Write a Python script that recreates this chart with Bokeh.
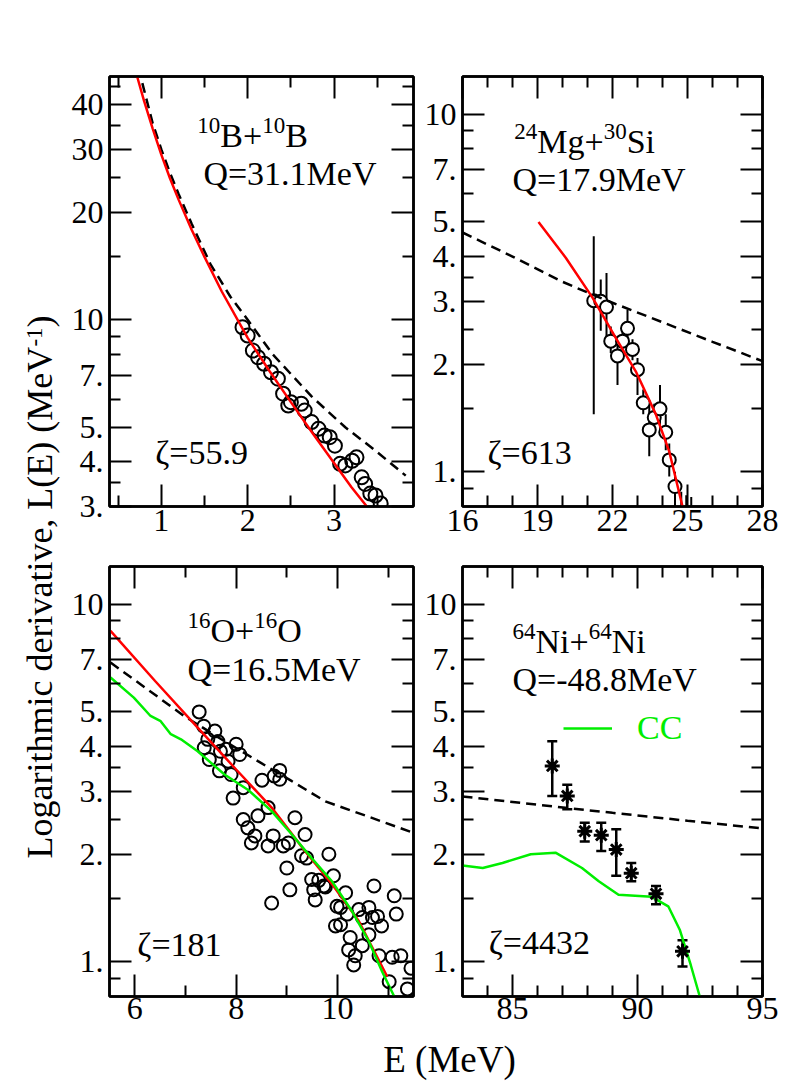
import math
from bokeh.plotting import figure
from bokeh.models import (LinearAxis, LogAxis, FixedTicker, CustomJSTickFormatter,
                          Range1d, Label, Legend, LegendItem, ColumnDataSource,
                          Whisker, TeeHead)
from bokeh.layouts import row, column
from bokeh.embed import file_html
from bokeh.resources import INLINE

FONT = "Liberation Serif"
RED = "#ff0000"
GREEN = "#00ee00"

# ---------------- Panel 1: 10B+10B ----------------
b_red_x = [0.72, 0.8, 0.9, 1.0, 1.1, 1.2, 1.35, 1.5, 1.7, 2.0, 2.25, 2.5, 2.75, 3.0, 3.2, 3.38]
b_red_y = [48, 41, 34.3, 29.0, 24.9, 21.7, 17.9, 15.0, 12.0, 8.9, 7.2, 5.88, 4.82, 3.97, 3.4, 3.0]
b_dash_x = [0.78, 0.9, 1.0, 1.1, 1.2, 1.35, 1.57, 1.8, 2.0, 2.29, 2.74, 3.13, 3.48, 3.83]
b_dash_y = [46, 35.5, 30, 25.8, 22.5, 18.6, 14.3, 11.6, 10.0, 8.0, 6.1, 5.0, 4.3, 3.66]
b_exp_x = [1.94, 2.0, 2.06, 2.12, 2.19, 2.27, 2.35, 2.41, 2.47, 2.5, 2.62, 2.66, 2.74,
           2.82, 2.89, 2.95, 3.01, 3.07, 3.13, 3.21, 3.26, 3.32, 3.36, 3.42, 3.48, 3.54]
b_exp_y = [9.53, 9.03, 8.2, 7.85, 7.53, 7.13, 6.84, 6.21, 5.75, 5.88, 5.82, 5.57, 5.17,
           4.95, 4.74, 4.69, 4.44, 3.95, 3.91, 4.03, 4.12, 3.62, 3.47, 3.26, 3.22, 3.06]

# ---------------- Panel 2: 24Mg+30Si ----------------
mg_red_x = [19.04, 20.13, 21.2, 22.13, 22.93, 23.73, 24.27, 24.8]
mg_red_y = [5.0, 3.97, 3.07, 2.37, 1.91, 1.45, 1.14, 0.8]
mg_dash_x = [16.0, 18.0, 20.0, 21.2, 22.0, 24.0, 26.0, 28.0]
mg_dash_y = [4.67, 4.0, 3.4, 3.13, 2.97, 2.62, 2.31, 2.04]
mg_exp_x = [21.25, 21.53, 21.76, 21.93, 22.2, 22.4, 22.6, 22.8, 23.0, 23.23, 23.47,
            23.67, 23.9, 24.13, 24.27, 24.5, 24.75, 24.95, 25.15]
mg_exp_y = [3.01, 3.0, 2.89, 2.32, 2.11, 2.32, 2.52, 2.2, 1.93, 1.56, 1.31,
            1.42, 1.5, 1.29, 1.08, 0.91, 0.72, 0.72, 0.70]
mg_exp_lo = [1.45, 2.48, 2.32, 2.15, 1.75, 2.15, 2.27, 2.05, 1.64, 1.45, 1.106,
             1.3, 1.3, 1.15, 0.97, 0.8, 0.6, 0.6, 0.6]
mg_exp_hi = [4.56, 3.45, 3.6, 2.55, 2.37, 2.5, 2.84, 2.35, 2.08, 1.7, 1.54,
             1.55, 1.75, 1.45, 1.2, 1.0, 0.88, 0.86, 0.85]

# ---------------- Panel 3: 16O+16O ----------------
o_red_x = [5.52, 6.4, 7.24, 8.0, 8.7, 9.36, 9.89, 10.42, 10.98]
o_red_y = [8.42, 6.1, 4.52, 3.45, 2.7, 2.04, 1.65, 1.3, 0.91]
o_dash_x = [5.52, 6.2, 6.97, 7.7, 8.43, 9.1, 9.76, 10.6, 11.48]
o_dash_y = [6.87, 5.85, 4.87, 4.2, 3.64, 3.2, 2.81, 2.55, 2.3]
o_cc_x = [5.52, 5.98, 6.31, 6.51, 6.71, 6.91, 7.24, 7.77, 8.23, 8.7, 9.1, 9.49,
          9.89, 10.28, 10.62, 10.88, 11.12]
o_cc_y = [6.24, 5.48, 4.87, 4.71, 4.33, 4.19, 3.88, 3.34, 3.03, 2.64, 2.27, 1.95,
          1.68, 1.39, 1.14, 0.94, 0.8]
o_exp_x = [7.27, 7.36, 7.58, 7.44, 7.64, 7.37, 7.47, 7.69, 7.80, 8.0, 8.07, 7.67,
           7.84, 7.90, 8.14, 7.94, 8.51, 8.75, 8.86, 8.86, 8.14, 8.23, 8.37, 8.30,
           8.43, 8.63, 8.73, 8.63, 8.93, 9.03, 9.16, 9.36, 9.29, 9.39, 9.0, 9.06,
           8.70, 9.49, 9.53, 9.56, 9.63, 9.73, 9.83, 9.92, 9.76, 9.99, 10.06, 10.16,
           9.96, 10.06, 10.25, 10.22, 10.35, 10.32, 10.42, 10.49, 10.62, 10.72, 10.69,
           10.79, 10.87, 10.62, 10.49, 10.82, 11.08, 11.12, 11.16, 11.25, 11.45, 11.38,
           11.02, 10.19]
o_exp_y = [5.00, 4.56, 4.42, 4.19, 4.13, 3.97, 3.68, 3.88, 3.93, 4.06, 3.80, 3.42,
           3.64, 3.34, 3.07, 2.87, 3.22, 3.31, 3.43, 3.24, 2.50, 2.37, 2.25, 2.15,
           2.56, 2.70, 2.25, 2.11, 2.11, 2.15, 2.53, 2.27, 1.98, 1.95, 1.83, 1.59,
           1.46, 1.70, 1.59, 1.49, 1.69, 1.63, 2.00, 1.74, 1.62, 1.43, 1.42, 1.56,
           1.26, 1.27, 1.17, 1.08, 1.04, 0.98, 1.40, 1.33, 1.42, 1.63, 1.33,
           1.34, 1.26, 1.19, 1.11, 1.04, 1.03, 1.53, 1.36, 1.04, 0.96, 0.84,
           0.88, 1.36]

# ---------------- Panel 4: 64Ni+64Ni ----------------
ni_dash_x = [83, 86, 89, 92, 95]
ni_dash_y = [2.90, 2.75, 2.61, 2.48, 2.36]
ni_cc_x = [83.0, 83.81, 84.6, 85.73, 86.72, 87.78, 88.45, 89.24, 90.57, 91.23, 91.69, 92.13, 92.49]
ni_cc_y = [1.86, 1.83, 1.89, 2.0, 2.02, 1.83, 1.68, 1.54, 1.52, 1.43, 1.23, 0.98, 0.80]
ni_exp_x = [86.59, 87.19, 87.89, 88.55, 89.15, 89.75, 90.74, 91.80]
ni_exp_y = [3.53, 2.91, 2.32, 2.26, 2.06, 1.77, 1.55, 1.07]
ni_exp_lo = [2.91, 2.67, 2.17, 2.04, 1.74, 1.68, 1.45, 0.97]
ni_exp_hi = [4.14, 3.13, 2.45, 2.45, 2.35, 1.89, 1.63, 1.15]

# ---------------- ticks ----------------
y1_major = [3, 4, 5, 7, 10, 20, 30, 40]
y1_minor = [3.5, 6, 8, 9, 15, 25, 35, 45]
y2_major = [1, 2, 3, 4, 5, 7, 10]
y2_minor = [0.9, 1.5, 2.5, 3.5, 6, 8, 9]
x1_major, x1_minor = [1, 2, 3], [0.5, 1.5, 2.5, 3.5]
x2_major, x2_minor = [16, 19, 22, 25, 28], [17, 18, 20, 21, 23, 24, 26, 27]
x3_major, x3_minor = [6, 8, 10], [7, 9, 11]
x4_major, x4_minor = [85, 90, 95], [84, 86, 87, 88, 89, 91, 92, 93, 94]

MAIN = 34      # annotation font size (px)
SUP = 23       # superscript font size (px)
EM = {"0": .5, "1": .5, "2": .5, "3": .5, "4": .5, "6": .5, "B": .667, "+": .564,
      "M": .889, "g": .5, "S": .556, "i": .278, "O": .722, "N": .722}


def style_axis(ax, labels, standoff):
    ax.major_tick_in = 22
    ax.major_tick_out = 0
    ax.minor_tick_in = 11
    ax.minor_tick_out = 0
    ax.major_tick_line_width = 2
    ax.minor_tick_line_width = 2
    ax.major_tick_line_color = "black"
    ax.minor_tick_line_color = "black"
    ax.axis_line_width = 2.5
    ax.axis_line_color = "black"
    ax.major_label_text_font = FONT
    ax.major_label_text_font_size = "32px"
    ax.major_label_text_color = "black"
    ax.major_label_standoff = standoff
    ax.axis_label = None
    if not labels:
        ax.major_label_text_color = None


def panel(xr, yr, xmaj, xmin, ymaj, ymin, w, h, bl, br, bt, bb, xstand):
    p = figure(width=w, height=h, x_range=Range1d(*xr), y_range=Range1d(*yr),
               y_axis_type="log", x_axis_location=None, y_axis_location=None,
               output_backend="svg", toolbar_location=None,
               min_border_left=bl, min_border_right=br,
               min_border_top=bt, min_border_bottom=bb)
    p.outline_line_color = "black"
    p.outline_line_width = 2.5
    for g in p.grid:
        g.visible = False
    xt = FixedTicker(ticks=xmaj, minor_ticks=xmin)
    yt = FixedTicker(ticks=ymaj, minor_ticks=ymin)
    yfmt = CustomJSTickFormatter(code="return tick >= 10 ? tick.toFixed(0) : tick.toFixed(0) + '.';")
    ax = LinearAxis(ticker=xt); style_axis(ax, True, xstand); p.add_layout(ax, "below")
    ax = LinearAxis(ticker=xt); style_axis(ax, False, 3); p.add_layout(ax, "above")
    ax = LogAxis(ticker=yt, formatter=yfmt); style_axis(ax, True, 6); p.add_layout(ax, "left")
    ax = LogAxis(ticker=yt, formatter=yfmt); style_axis(ax, False, 6); p.add_layout(ax, "right")
    return p


def note(p, x, y, text, size=MAIN, color="black", dx=0, dy=0):
    p.add_layout(Label(x=x, y=y, x_offset=dx, y_offset=dy, text=text, text_font=FONT,
                       text_font_size=f"{size}px", text_color=color,
                       text_align="left", text_baseline="alphabetic"))


def reaction(p, x, y, parts):
    # parts: list of (text, is_superscript)
    dx = 0.0
    for txt, sup in parts:
        size = SUP if sup else MAIN
        note(p, x, y, txt, size=size, dx=dx, dy=10 if sup else 0)
        dx += sum(EM.get(c, .5) for c in txt) * size


DASH = "10 6"
LW = 2.5

# Panel 1
p1 = panel((0.4, 3.92), (3, 48), x1_major, x1_minor, y1_major, y1_minor, 353, 548, 47, 2, 76, 42, 3)
p1.scatter(b_exp_x, b_exp_y, marker="circle", size=14, fill_color=None, line_color="black", line_width=2)
p1.line(b_dash_x, b_dash_y, line_color="black", line_width=LW, line_dash=DASH)
p1.line(b_red_x, b_red_y, line_color=RED, line_width=LW)
reaction(p1, 1.417, 32.8, [("10", True), ("B+", False), ("10", True), ("B", False)])
note(p1, 1.487, 25.6, "Q=31.1MeV")
note(p1, 0.93, 4.26, "ζ=55.9")

# Panel 2
p2 = panel((16, 28), (0.8, 12.75), x2_major, x2_minor, y2_major, y2_minor, 367, 548, 47, 20, 76, 42, 3)
p2.segment(mg_exp_x, mg_exp_lo, mg_exp_x, mg_exp_hi, line_color="black", line_width=2)
p2.scatter(mg_exp_x, mg_exp_y, marker="circle", size=13, fill_color="white", line_color="black", line_width=2)
p2.line(mg_dash_x, mg_dash_y, line_color="black", line_width=LW, line_dash=DASH)
p2.line(mg_red_x, mg_red_y, line_color=RED, line_width=LW)
reaction(p2, 18.07, 8.38, [("24", True), ("Mg+", False), ("30", True), ("Si", False)])
note(p2, 18.0, 6.58, "Q=17.9MeV")
note(p2, 17.0, 1.13, "ζ=613")

# Panel 3
p3 = panel((5.5, 11.5), (0.8, 12.75), x3_major, x3_minor, y2_major, y2_minor, 353, 485, 47, 2, 18, 37, 1)
p3.scatter(o_exp_x, o_exp_y, marker="circle", size=13, fill_color=None, line_color="black", line_width=2)
p3.line(o_dash_x, o_dash_y, line_color="black", line_width=LW, line_dash=DASH)
p3.line(o_red_x, o_red_y, line_color=RED, line_width=LW)
p3.line(o_cc_x, o_cc_y, line_color=GREEN, line_width=LW)
reaction(p3, 7.04, 8.42, [("16", True), ("O+", False), ("16", True), ("O", False)])
note(p3, 7.04, 6.58, "Q=16.5MeV")
note(p3, 6.05, 1.118, "ζ=181")

# Panel 4
p4 = panel((83, 95), (0.8, 12.75), x4_major, x4_minor, y2_major, y2_minor, 367, 485, 47, 20, 18, 37, 1)
p4.line(ni_dash_x, ni_dash_y, line_color="black", line_width=LW, line_dash=DASH)
cc4 = p4.line(ni_cc_x, ni_cc_y, line_color=GREEN, line_width=LW)
src4 = ColumnDataSource(dict(base=ni_exp_x, lower=ni_exp_lo, upper=ni_exp_hi))
p4.add_layout(Whisker(source=src4, base="base", lower="lower", upper="upper", dimension="height",
                      line_width=2.5, line_color="black",
                      upper_head=TeeHead(size=10, line_width=2.5, line_color="black"),
                      lower_head=TeeHead(size=10, line_width=2.5, line_color="black")))
p4.scatter(ni_exp_x, ni_exp_y, marker="asterisk", size=15, line_color="black", line_width=3)
reaction(p4, 85.0, 7.89, [("64", True), ("Ni+", False), ("64", True), ("Ni", False)])
note(p4, 85.0, 6.17, "Q=-48.8MeV")
note(p4, 84.05, 1.13, "ζ=4432")
leg = Legend(items=[LegendItem(label="CC", renderers=[cc4])], location=(101, 249),
             padding=0, margin=0, spacing=0, glyph_width=49, glyph_height=20,
             label_standoff=25, label_text_font=FONT, label_text_font_size="34px",
             label_text_color=GREEN, border_line_color=None, background_fill_alpha=0)
p4.add_layout(leg)

# ---------------- axis-title strips ----------------
YT = 36
ys = figure(width=62, height=1081, x_range=Range1d(0, 62), y_range=Range1d(0, 1081),
            x_axis_location=None, y_axis_location=None, output_backend="svg",
            toolbar_location=None, min_border=0, outline_line_color=None)
for g in ys.grid:
    g.visible = False
main_txt = "Logarithmic derivative, L(E) (MeV"
main_len = 14.219 * YT
sup_len = 0.833 * SUP
y0 = 1081 - 858
base_x = 52.0
for txt, yy, bx, sz in [(main_txt, y0, base_x, YT),
                        ("-1", y0 + main_len, base_x - 10, SUP),
                        (")", y0 + main_len + sup_len, base_x, YT)]:
    ys.add_layout(Label(x=bx - 0.3375 * sz, y=yy, text=txt, angle=math.pi / 2, text_align="left",
                        text_baseline="middle", text_font=FONT,
                        text_font_size=f"{sz}px", text_color="black"))

xs = figure(width=720, height=48, x_range=Range1d(0, 720), y_range=Range1d(0, 48),
            x_axis_location=None, y_axis_location=None, output_backend="svg",
            toolbar_location=None, min_border=0, outline_line_color=None)
for g in xs.grid:
    g.visible = False
xs.add_layout(Label(x=387, y=22, text="E (MeV)", text_align="center", text_baseline="alphabetic",
                    text_font=FONT, text_font_size="37px", text_color="black"))

layout = row(ys, column(row(p1, p2), row(p3, p4), xs))
open("out.html", "w").write(file_html(layout, INLINE))
